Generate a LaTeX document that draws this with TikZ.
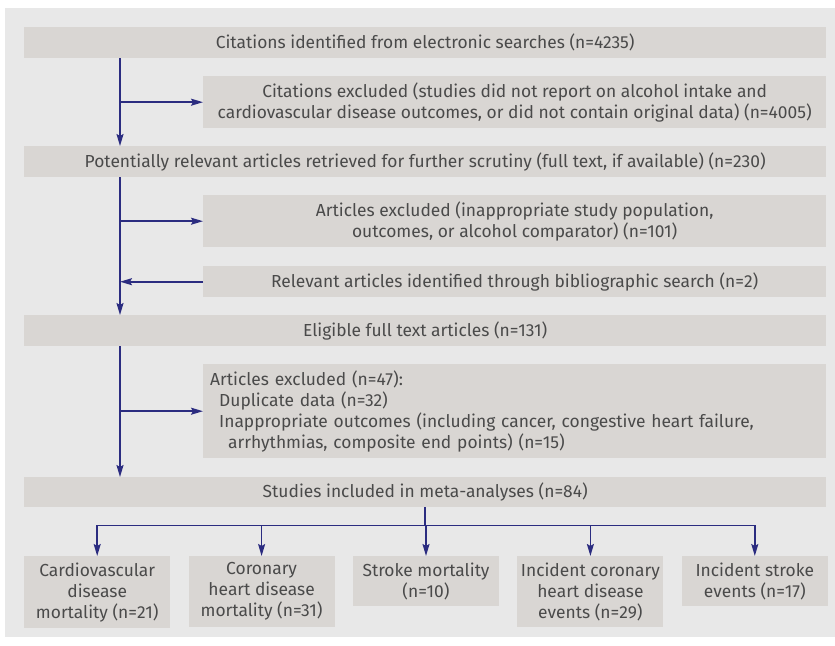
\documentclass[tikz,border=0pt]{standalone}
\usepackage{fontspec}
\setmainfont{Fira Sans}
\usetikzlibrary{arrows.meta,positioning}
\definecolor{panelgrey}{HTML}{E8E8E8}
\definecolor{boxgrey}{HTML}{D9D6D3}
\definecolor{textgrey}{HTML}{4A4A4A}
\definecolor{flownavy}{HTML}{2B2C80}

\begin{document}
\begin{tikzpicture}
			[x=1pt, y=-1pt, font=\fontsize{17.4}{21}\selectfont, inner sep=0pt,
			wide/.style		= {fill=boxgrey, text=textgrey, anchor=north west, minimum width=802pt, minimum height=31pt},
			side/.style		= {fill=boxgrey, text=textgrey, anchor=north west, align=center, minimum width=623pt, minimum height=31pt},
			leaf/.style		= {fill=boxgrey, text=textgrey, anchor=north west, align=center, minimum width=146pt, inner ysep=6.5pt},
			flow/.style		= {draw=flownavy, line width=1.6pt, -{Stealth[length=12pt, width=7pt, inset=2pt]}},
			bus/.style		= {draw=flownavy, line width=1.6pt}]
			
			\useasboundingbox (0,0) rectangle (835,645);
			\fill [panelgrey] (5,8) rectangle (835,637);
			
			\coordinate (spine) at (120,0);
			
			\node [wide]	at (24,27)		(cite)		{Citations identified from electronic searches (n=4235)};
			\node [side, minimum height=52pt]	at (203,76)	(exclA)	{Citations excluded (studies did not report on alcohol intake and\\cardiovascular disease outcomes, or did not contain original data) (n=4005)};
			\node [wide]	at (24,146)		(retr)		{Potentially relevant articles retrieved for further scrutiny (full text, if available) (n=230)};
			\node [side, minimum height=52pt]	at (203,195)	(exclB)	{Articles excluded (inappropriate study population,\\outcomes, or alcohol comparator) (n=101)};
			\node [side]	at (203,266)	(biblio)	{Relevant articles identified through bibliographic search (n=2)};
			\node [wide]	at (24,315)		(elig)		{Eligible full text articles (n=131)};
			\node [side, align=left, text width=609pt, inner xsep=7pt, minimum height=94pt]	at (203,364)	(exclC)
				{Articles excluded (n=47):\\\hspace*{9pt}Duplicate data (n=32)\\\hspace*{9pt}Inappropriate outcomes (including cancer, congestive heart failure,\\\hspace*{18pt}arrhythmias, composite end points) (n=15)};
			\node [wide, minimum height=30pt]	at (24,477)	(incl)	{Studies included in meta-analyses (n=84)};
			
			\node [leaf]	at (24,556)						(cvd)		{Cardiovascular\\disease\\mortality (n=21)};
			\node [leaf]	[right = 18pt of cvd.north east, anchor=north west]		(chd)		{Coronary\\heart disease\\mortality (n=31)};
			\node [leaf]	[right = 18pt of chd.north east, anchor=north west]		(stroke)	{Stroke mortality\\(n=10)};
			\node [leaf]	[right = 18pt of stroke.north east, anchor=north west]	(ichd)		{Incident coronary\\heart disease\\events (n=29)};
			\node [leaf]	[right = 18pt of ichd.north east, anchor=north west]	(istroke)	{Incident stroke\\events (n=17)};
			
			% main stem
			\draw [flow] (cite.south -| spine) -- (retr.north -| spine);
			\draw [flow] (exclA.west -| spine) -- (exclA.west);
			\draw [flow] (retr.south -| spine) -- (elig.north -| spine);
			\draw [flow] (exclB.west -| spine) -- (exclB.west);
			\draw [flow] (biblio.west) -- (biblio.west -| spine);
			\draw [flow] (elig.south -| spine) -- (incl.north -| spine);
			\draw [flow] (exclC.west -| spine) -- (exclC.west);
			
			% split to outcomes
			\draw [bus] (incl.south) -- ++(0,18) coordinate (split);
			\draw [bus] (split -| cvd.north) -- (split -| istroke.north);
			\foreach \leafname in {cvd,chd,stroke,ichd,istroke}
				\draw [flow] (split -| \leafname.north) -- (\leafname.north);
			\end{tikzpicture}
\end{document}
